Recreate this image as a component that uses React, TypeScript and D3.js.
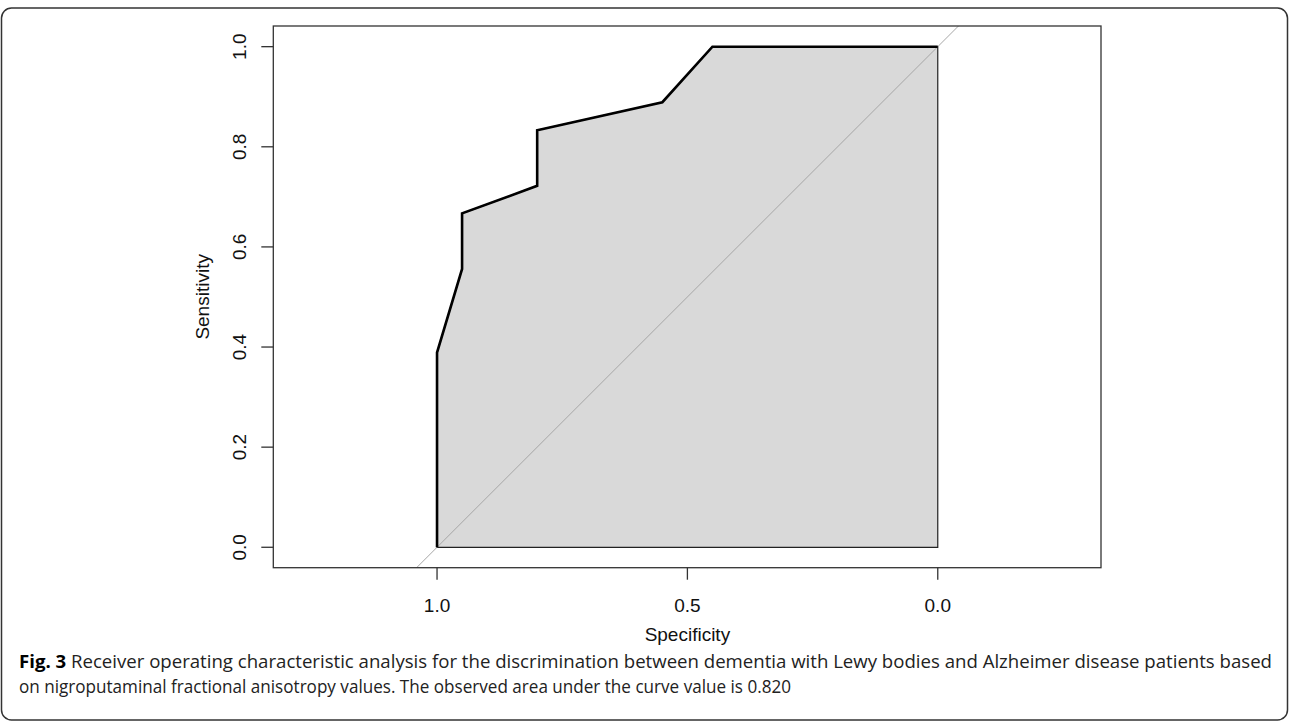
import React from "react";
import * as d3 from "d3";

const specificity = [1.0, 1.0, 0.95, 0.95, 0.8, 0.8, 0.55, 0.45, 0.0];
const sensitivity = [0.0, 0.389, 0.556, 0.667, 0.722, 0.833, 0.889, 1.0, 1.0];
const xTicks = [1.0, 0.5, 0.0];
const yTicks = [0.0, 0.2, 0.4, 0.6, 0.8, 1.0];
const xLabel = "Specificity";
const yLabel = "Sensitivity";
const captionBold = "Fig. 3";
const captionLine1 =
  " Receiver operating characteristic analysis for the discrimination between dementia with Lewy bodies and Alzheimer disease patients based";
const captionLine2 =
  "on nigroputaminal fractional anisotropy values. The observed area under the curve value is 0.820";

export default function App() {
  const W = 1290;
  const H = 724;
  const plot = { left: 273.3, right: 1101, top: 26, bottom: 567.7 };
  const x = d3.scaleLinear().domain([1.327, -0.326]).range([plot.left, plot.right]);
  const y = d3.scaleLinear().domain([-0.0408, 1.0413]).range([plot.bottom, plot.top]);

  const pts = specificity.map((s, i) => [s, sensitivity[i]] as [number, number]);
  const line = d3
    .line<[number, number]>()
    .x((d) => x(d[0]))
    .y((d) => y(d[1]));
  const polyPts: [number, number][] = [...pts, [0, 0], [1, 0]];
  const polyPath = line(polyPts) + "Z";
  const curvePath = line(pts) || "";

  const xd = x.domain();
  const diag: [number, number][] = [
    [xd[0], 1 - xd[0]],
    [xd[1], 1 - xd[1]],
  ];

  const font = "'Liberation Sans', Arial, Helvetica, sans-serif";
  const capFont = "'Open Sans', 'Noto Sans', sans-serif";
  const fs = 19;

  return (
    <div style={{ position: "absolute", left: 0, top: 0 }}>
      <svg width={W} height={H} style={{ display: "block", background: "#fff" }}>
        <defs>
          <clipPath id="plotclip">
            <rect x={plot.left} y={plot.top} width={plot.right - plot.left} height={plot.bottom - plot.top} />
          </clipPath>
        </defs>
        <rect x={1.5} y={8} width={1286} height={712} rx={10} ry={10} fill="none" stroke="#333" strokeWidth={1.5} />

        <path d={polyPath} fill="#d9d9d9" stroke="#222" strokeWidth={1.2} />
        <path
          d={line(diag) || ""}
          clipPath="url(#plotclip)"
          stroke="#a6a6a6"
          strokeWidth={1}
          fill="none"
        />
        <path d={curvePath} fill="none" stroke="#000" strokeWidth={2.6} strokeLinejoin="miter" />

        <rect
          x={plot.left}
          y={plot.top}
          width={plot.right - plot.left}
          height={plot.bottom - plot.top}
          fill="none"
          stroke="#333"
          strokeWidth={1.3}
        />

        {yTicks.map((t) => (
          <g key={"y" + t}>
            <line x1={plot.left - 12} x2={plot.left} y1={y(t)} y2={y(t)} stroke="#333" strokeWidth={1.3} />
            <text
              transform={`translate(${246},${y(t)}) rotate(-90)`}
              textAnchor="middle"
              fontFamily={font}
              fontSize={fs}
              fill="#111"
            >
              {t.toFixed(1)}
            </text>
          </g>
        ))}
        {xTicks.map((t) => (
          <g key={"x" + t}>
            <line x1={x(t)} x2={x(t)} y1={plot.bottom} y2={plot.bottom + 12} stroke="#333" strokeWidth={1.3} />
            <text x={x(t)} y={612} textAnchor="middle" fontFamily={font} fontSize={fs} fill="#111">
              {t.toFixed(1)}
            </text>
          </g>
        ))}
        <text x={x(0.5)} y={641} textAnchor="middle" fontFamily={font} fontSize={fs} fill="#111">
          {xLabel}
        </text>
        <text
          transform={`translate(${209},${(plot.top + plot.bottom) / 2}) rotate(-90)`}
          textAnchor="middle"
          fontFamily={font}
          fontSize={fs}
          fill="#111"
        >
          {yLabel}
        </text>

        <text x={19} y={668} fontFamily={capFont} fontSize={18.5} fill="#222" textLength={1253} lengthAdjust="spacingAndGlyphs">
          <tspan fontWeight="bold" fill="#000">{captionBold}</tspan>
          {captionLine1}
        </text>
        <text x={19} y={693} fontFamily={capFont} fontSize={18.5} fill="#222" textLength={772} lengthAdjust="spacingAndGlyphs">
          {captionLine2}
        </text>
      </svg>
    </div>
  );
}
